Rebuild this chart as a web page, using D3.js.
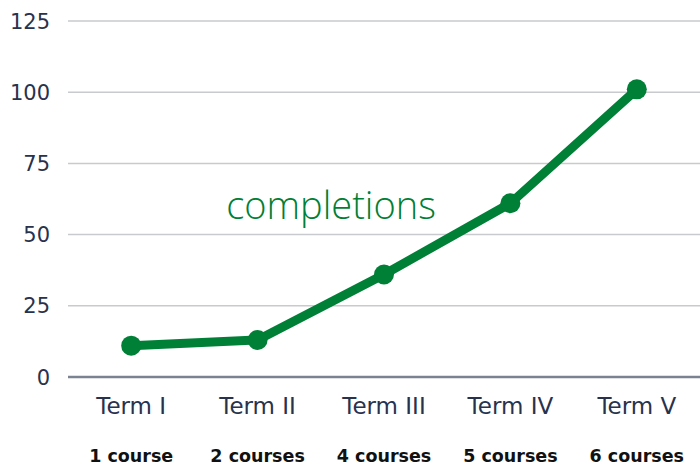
<!DOCTYPE html>
<html><head><meta charset="utf-8">
<script src="https://cdn.jsdelivr.net/npm/d3@7"></script>
<style>body{margin:0;background:#fff}svg{display:block}</style>
</head><body>
<svg id="c" width="700" height="468"></svg>
<script>
const terms = ["Term I","Term II","Term III","Term IV","Term V"];
const courses = ["1 course","2 courses","4 courses","5 courses","6 courses"];
const completions = [11,13,36,61,101];
const yTicks = [0,25,50,75,100,125];
const seriesLabel = "completions";

const svg = d3.select("#c");
const x = d3.scalePoint().domain(terms).range([68,700]).padding(0.5);
const y = d3.scaleLinear().domain([0,125]).range([377,21]);
const navy = "#28324d", green = "#007f36";

svg.append("g").selectAll("line").data(yTicks).join("line")
  .attr("x1",68).attr("x2",700)
  .attr("y1",d=>y(d)).attr("y2",d=>y(d))
  .attr("stroke",d=>d===0?"#7b8291":"#c9cacd")
  .attr("stroke-width",d=>d===0?2.5:1.5);

svg.append("g").selectAll("text").data(yTicks).join("text")
  .attr("x",50).attr("y",d=>y(d)).attr("dy","0.36em")
  .attr("text-anchor","end")
  .attr("font-family","DejaVu Sans, sans-serif").attr("font-size",21)
  .attr("fill",navy).text(d=>d);

svg.append("g").selectAll("text").data(terms).join("text")
  .attr("x",d=>x(d)).attr("y",414)
  .attr("text-anchor","middle")
  .attr("font-family","DejaVu Sans, sans-serif").attr("font-size",23)
  .attr("fill",navy).text(d=>d);

svg.append("g").selectAll("text").data(courses).join("text")
  .attr("x",(d,i)=>x(terms[i])).attr("y",462)
  .attr("text-anchor","middle")
  .attr("font-family","DejaVu Sans, sans-serif").attr("font-size",17.5).attr("font-weight","bold")
  .attr("fill","#111").text(d=>d);

const pts = terms.map((t,i)=>[x(t),y(completions[i])]);
svg.append("path").attr("d",d3.line()(pts))
  .attr("fill","none").attr("stroke",green).attr("stroke-width",9)
  .attr("stroke-linejoin","round");
svg.append("g").selectAll("circle").data(pts).join("circle")
  .attr("cx",d=>d[0]).attr("cy",d=>d[1]).attr("r",10).attr("fill",green);

svg.append("text").attr("x",331).attr("y",219).attr("text-anchor","middle")
  .attr("font-family","Open Sans, sans-serif").attr("font-weight",300).attr("font-size",38)
  .attr("fill",green).text(seriesLabel);
</script>
</body></html>
